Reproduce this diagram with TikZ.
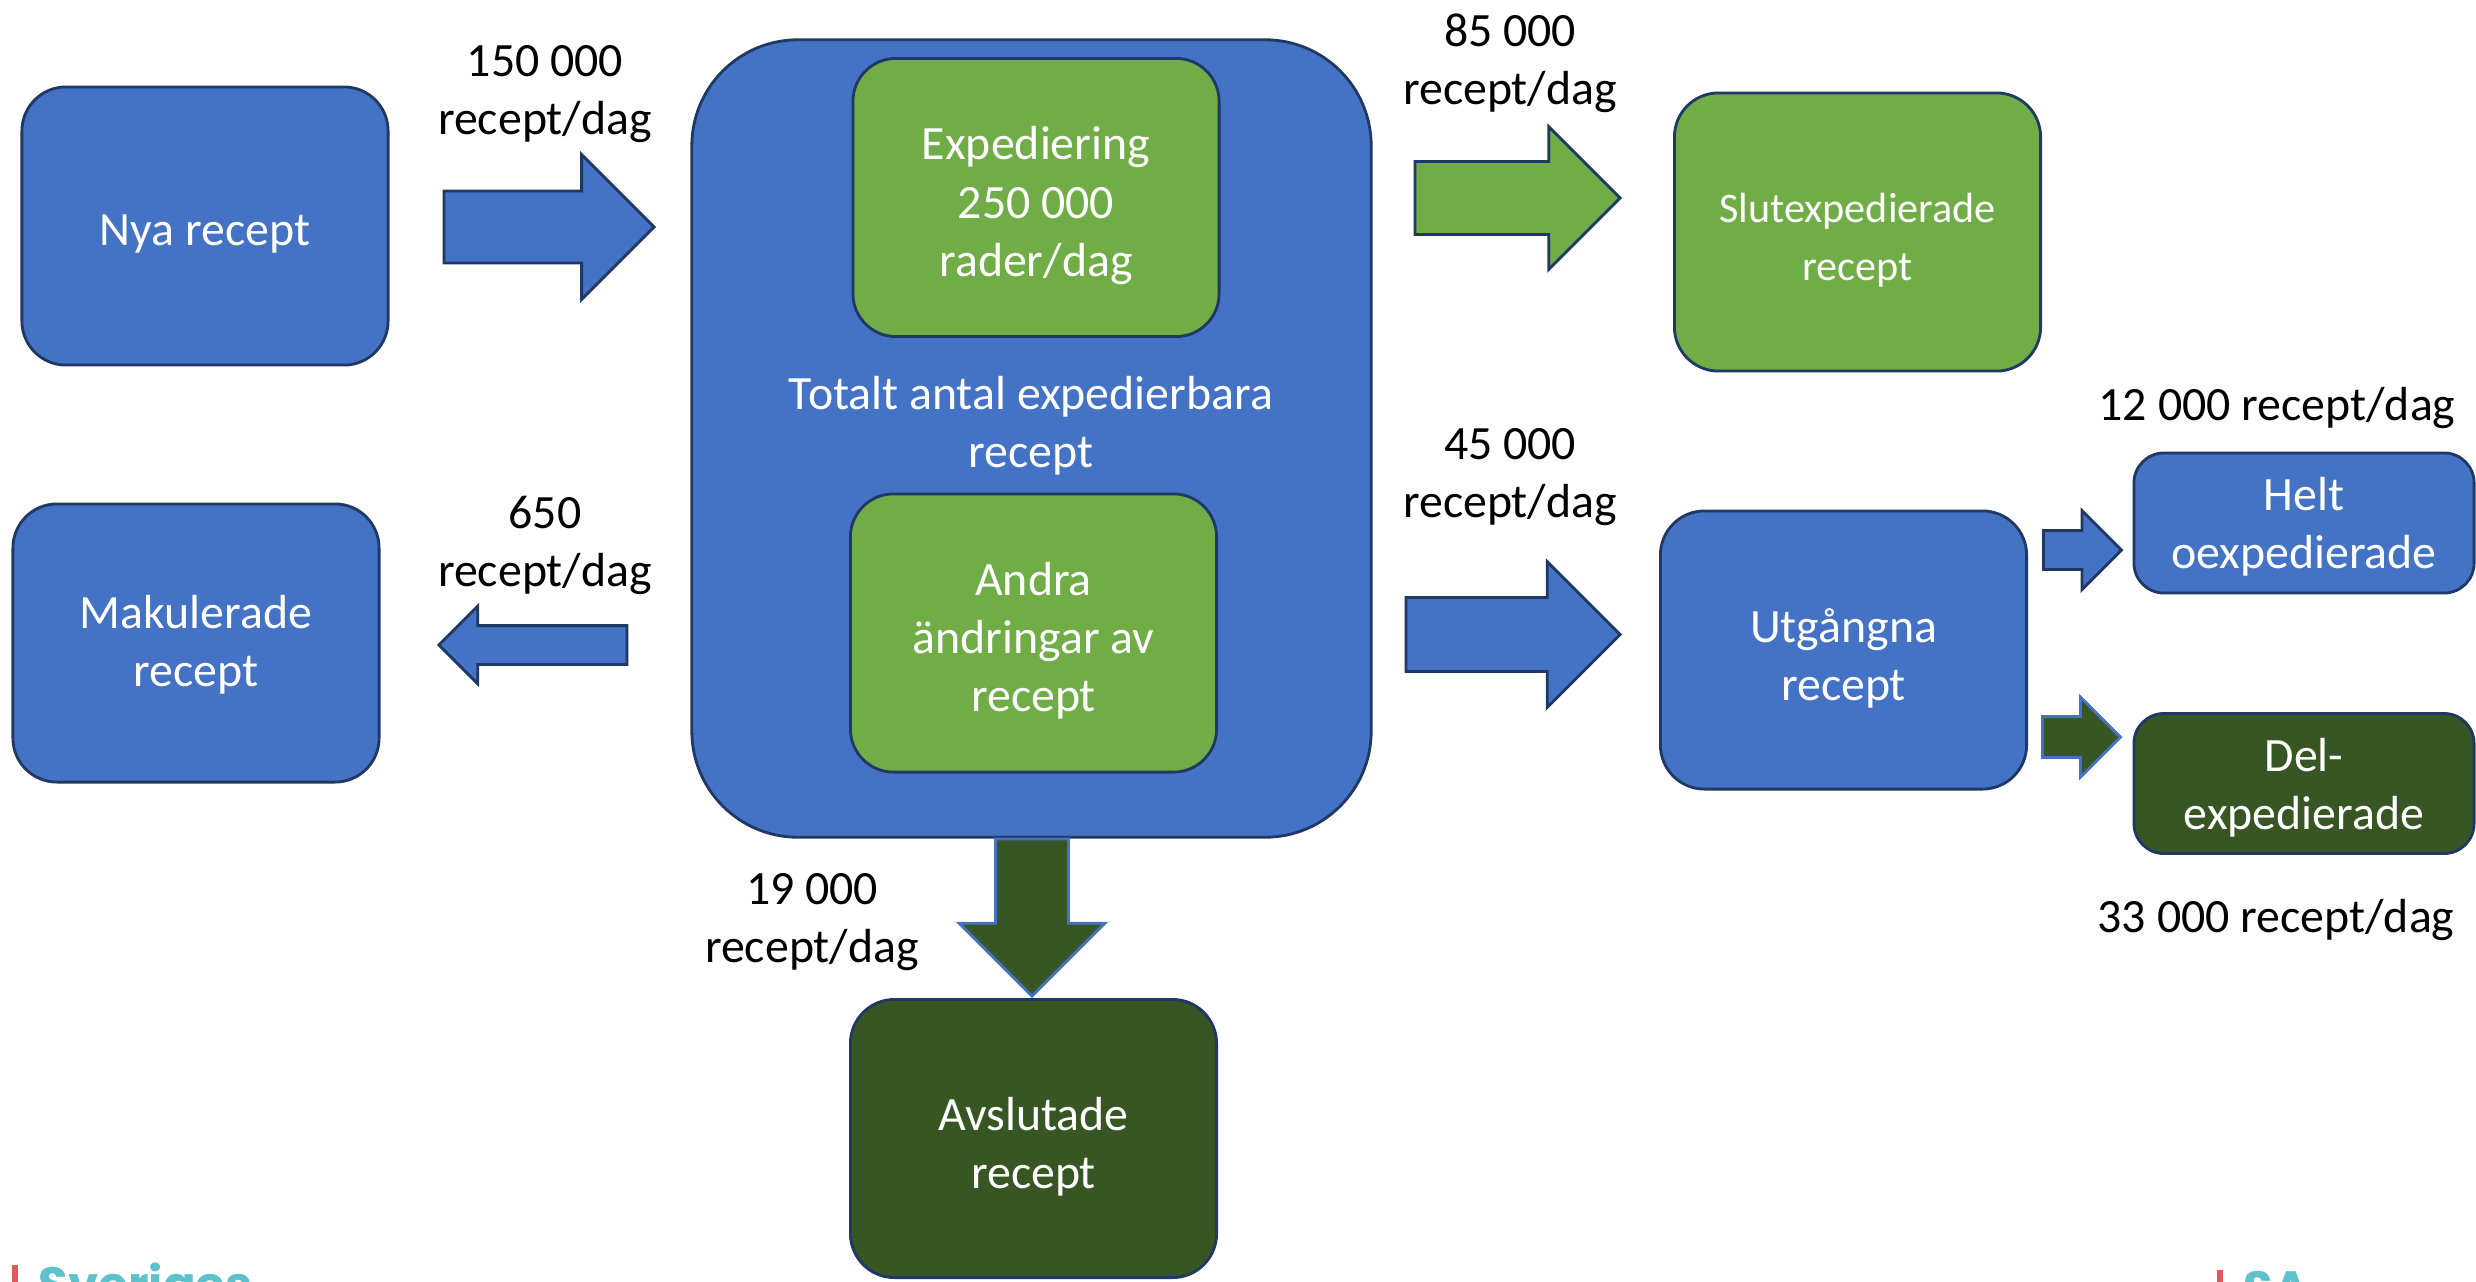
\documentclass[tikz,border=0pt]{standalone}
\usepackage{fontspec}
\setmainfont{Carlito}
\newfontfamily\logofont{Poppins}
\usetikzlibrary{shapes.arrows,calc}

\definecolor{boxblue}{HTML}{4472C4}
\definecolor{boxgreen}{HTML}{70AD47}
\definecolor{darkgreen}{HTML}{375623}
\definecolor{navy}{HTML}{1F3864}
\definecolor{logocyan}{HTML}{5EC2CC}
\definecolor{logored}{HTML}{E05A5A}

\tikzset{
  box/.style={rectangle, rounded corners=.44cm, draw=navy, line width=.8pt, inner sep=0pt,
    minimum width=3.66cm, minimum height=2.78cm},
  bluebox/.style={box, fill=boxblue},
  greenbox/.style={box, fill=boxgreen},
  darkbox/.style={box, fill=darkgreen},
  smallbox/.style={rounded corners=.3cm, minimum width=3.4cm, minimum height=1.4cm},
  boxtxt/.style={text=white, align=center, inner sep=0pt, yshift=-.08cm,
    font=\fontsize{13.6}{16.5}\selectfont},
  flow/.style n args={3}{single arrow, draw=navy, line width=.8pt, inner sep=0pt, anchor=tail,
    minimum height=#1, inner ysep=#2, single arrow head extend=#3},
  lbl/.style={align=center, inner sep=0pt, font=\fontsize{13.6}{16.5}\selectfont}
}

\begin{document}
\begin{tikzpicture}[x=0.01cm,y=-0.01cm]
\useasboundingbox (0,0) rectangle (2476,1281);

% boxes
\node[bluebox, label={[boxtxt]center:Nya recept}] (nya) at (205,226) {};
\node[bluebox, label={[boxtxt, yshift=.06cm]center:{Makulerade\\recept}}] (mak) at (196,643) {};
\node[bluebox, rounded corners=1.06cm, minimum width=6.79cm, minimum height=7.97cm] (total) at (1031.5,438.5) {};
\node[greenbox, rounded corners=.43cm, label={[boxtxt]center:{Expediering\\250 000\\rader/dag}}] (exp) at (1036,197.5) {};
\node[greenbox, rounded corners=.43cm, label={[boxtxt]center:{Andra\\ändringar av\\recept}}] (andra) at (1033.5,633) {};
\node[lbl, text=white] (totaltxt) at (1031,426) {Totalt antal expedierbara\\recept};
\node[darkbox, label={[boxtxt]center:{Avslutade\\recept}}] (avsl) at (1033.5,1138.5) {};
\node[greenbox, label={[boxtxt, font=\fontsize{12}{16.5}\selectfont]center:{Slutexpedierade\\recept}}] (slut) at (1857.5,232) {};
\node[bluebox, label={[boxtxt]center:{Utgångna\\recept}}] (utg) at (1843.5,650) {};
\node[bluebox, smallbox, label={[boxtxt, yshift=.04cm]center:{Helt\\oexpedierade}}] (helt) at (2304,523) {};
\node[darkbox, smallbox, label={[boxtxt, yshift=.04cm]center:{Del-\\expedierade}}] (del) at (2304,783.5) {};

% block arrows
\node[flow={2.1cm}{.345cm}{.365cm}, fill=boxblue] (a1)
  at ($(nya.east) + (53,1)$) {};
\node[flow={1.88cm}{.18cm}{.195cm}, fill=boxblue, rotate=180] (a2)
  at ($(total.west |- mak.east) + (-62,2)$) {};
\node[flow={1.57cm}{.35cm}{.365cm}, fill=darkgreen, draw=boxblue, rotate=270] (a3)
  at ($(total.south) + (0.5,-1)$) {};
\node[flow={2.05cm}{.35cm}{.35cm}, fill=boxgreen] (a4)
  at ($(total.east |- slut.west) + (41,-34)$) {};
\node[flow={2.14cm}{.355cm}{.36cm}, fill=boxblue] (a5)
  at ($(total.east |- utg.west) + (32,-15.5)$) {};
\node[flow={.78cm}{.18cm}{.2cm}, fill=boxblue] (a6)
  at ($(utg.east |- helt.west) + (14,27)$) {};
\node[flow={.78cm}{.19cm}{.195cm}, fill=darkgreen, draw=boxblue] (a7)
  at ($(utg.east |- del.west) + (13,-46.5)$) {};

% flow labels
\node[lbl] (l150) at (545,94) {150 000\\recept/dag};
\node[lbl] (l85) at (1510,63) {85 000\\recept/dag};
\node[lbl] (l650) at (545,545) {650\\recept/dag};
\node[lbl] (l45) at (1510,477) {45 000\\recept/dag};
\node[lbl] (l19) at (812,922) {19 000\\recept/dag};
\node[lbl] (l12) at (2277,408) {12 000 recept/dag};
\node[lbl] (l33) at (2276,920) {33 000 recept/dag};

% logos cut at the bottom edge
\begin{scope}
\clip (0,0) rectangle (2476,1281);
\fill[logored] (12,1265) rectangle (18,1290);
\node[anchor=base west, inner sep=0pt, text=logocyan,
  font=\logofont\bfseries\fontsize{13.7}{16}\selectfont] (logoa) at (38,1301) {Sveriges};
\fill[logored] (2217,1270) rectangle (2223,1290);
\node[anchor=base west, inner sep=0pt, text=logocyan,
  font=\logofont\bfseries\fontsize{13.7}{16}\selectfont] (logob) at (2243,1305) {SA};
\end{scope}
\end{tikzpicture}
\end{document}
